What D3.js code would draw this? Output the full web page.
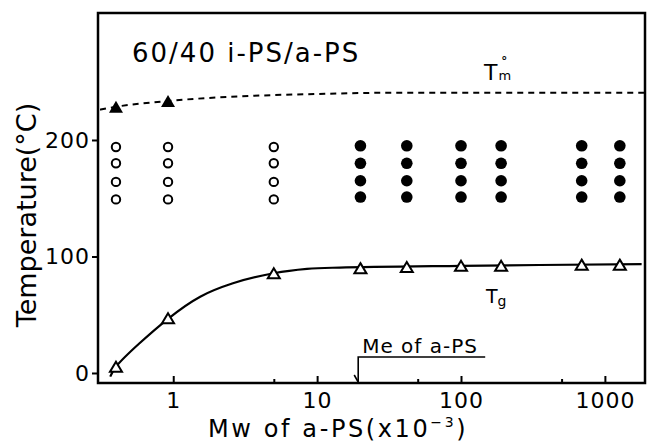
<!DOCTYPE html>
<html>
<head>
<meta charset="utf-8">
<script src="https://cdnjs.cloudflare.com/ajax/libs/d3/7.8.5/d3.min.js"></script>
<style>
  body { margin: 0; background: #fff; }
  svg { display: block; }
  text { font-family: "DejaVu Sans", sans-serif; fill: #000; }
</style>
</head>
<body>
<div id="chart"></div>
<script>
// Values (Mw in units of 10^3, temperature in °C)
const mwTicks = [1, 10, 100, 1000];
const mwMinorTicks = [5, 50, 500];
const tempTicks = [0, 100, 200];

// melting point (filled triangles) and dashed T°m curve
const tmMw = [0.4, 0.92];
const tmTemp = [228.5, 233.5];
const tmCurveMw = [0.31, 0.4, 0.92, 3, 10, 30, 1880];
const tmCurveTemp = [226, 228.5, 233.5, 237.5, 239.5, 240.5, 240.5];

// glass transition (open triangles) and solid Tg curve
const tgMw = [0.4, 0.92, 5, 20, 42, 100, 190, 690, 1270];
const tgTemp = [5.4, 47, 85.6, 90, 91, 92, 92, 93, 93];
const tgCurveMw = [0.365, 0.4, 0.92, 1.54, 2.6, 5, 8.5, 14.4, 100, 1800];
const tgCurveTemp = [-3.2, 5.4, 46.5, 65.5, 77, 85.6, 89.3, 90.5, 92, 93.5];

// crystallisation temperatures tested: open = no crystallisation, filled = crystallised
const openMw = [0.4, 0.92, 5];
const filledMw = [20, 42, 100, 190, 690, 1270];
const openTemps = [194, 180, 164, 149];
const filledTemps = [195, 180, 165, 151];

const meValue = 19.3; // Me of a-PS

const width = 649, height = 444;
const margin = { top: 13, right: 4, bottom: 61, left: 98 };

const svg = d3.select('#chart')
    .append('svg')
    .attr('width', width)
    .attr('height', height);

const x = d3.scaleLog()
    .domain([0.3, 1900])
    .range([margin.left, width - margin.right]);

const y = d3.scaleLinear()
    .domain([-8.6, 309])
    .range([height - margin.bottom, margin.top]);

const x0 = margin.left, x1 = width - margin.right;
const y0 = height - margin.bottom, y1 = margin.top;

// frame
svg.append('rect')
    .attr('x', x0)
    .attr('y', y1)
    .attr('width', x1 - x0)
    .attr('height', y0 - y1)
    .attr('fill', 'none')
    .attr('stroke', '#000')
    .attr('stroke-width', 2.5);

// x axis (ticks pointing inward)
svg.append('g')
    .attr('transform', `translate(0,${y0})`)
    .call(d3.axisBottom(x)
        .tickValues(mwTicks)
        .tickFormat(d3.format('d'))
        .tickSizeInner(-7)
        .tickSizeOuter(0)
        .tickPadding(9));

svg.append('g')
    .attr('transform', `translate(0,${y0})`)
    .call(d3.axisBottom(x)
        .tickValues(mwMinorTicks)
        .tickFormat('')
        .tickSizeInner(-4)
        .tickSizeOuter(0));

// y axis (ticks pointing outward)
svg.append('g')
    .attr('transform', `translate(${x0},0)`)
    .call(d3.axisLeft(y)
        .tickValues(tempTicks)
        .tickSizeInner(6)
        .tickSizeOuter(0)
        .tickPadding(2));

svg.selectAll('.domain').remove();
svg.selectAll('.tick line').attr('stroke-width', 2);
svg.selectAll('.tick text')
    .style('font-family', '"DejaVu Sans", sans-serif')
    .style('font-size', '22px')
    .style('letter-spacing', '1px');

// curves
const tmLine = d3.line()
    .x(d => x(d[0]))
    .y(d => y(d[1]))
    .curve(d3.curveMonotoneX);

const tgLine = d3.line()
    .x(d => x(d[0]))
    .y(d => y(d[1]))
    .curve(d3.curveCatmullRom.alpha(0.5));

svg.append('path')
    .datum(d3.zip(tmCurveMw, tmCurveTemp))
    .attr('d', tmLine)
    .attr('fill', 'none')
    .attr('stroke', '#000')
    .attr('stroke-width', 2)
    .attr('stroke-dasharray', '6,5');

svg.append('path')
    .datum(d3.zip(tgCurveMw, tgCurveTemp))
    .attr('d', tgLine)
    .attr('fill', 'none')
    .attr('stroke', '#000')
    .attr('stroke-width', 2.2);

// triangle helper (bounding box centred on the point)
function triangle(cx, cy, w, h) {
    return `M${cx},${cy - h / 2}L${cx + w / 2},${cy + h / 2}L${cx - w / 2},${cy + h / 2}Z`;
}

svg.selectAll('.tm')
    .data(d3.zip(tmMw, tmTemp))
    .join('path')
    .attr('d', d => triangle(x(d[0]), y(d[1]), 14, 12))
    .attr('fill', '#000');

svg.selectAll('.tg')
    .data(d3.zip(tgMw, tgTemp))
    .join('path')
    .attr('d', d => triangle(x(d[0]), y(d[1]), 12, 10))
    .attr('fill', '#fff')
    .attr('stroke', '#000')
    .attr('stroke-width', 2);

// circles
svg.selectAll('.open')
    .data(d3.cross(openMw, openTemps))
    .join('circle')
    .attr('cx', d => x(d[0]))
    .attr('cy', d => y(d[1]))
    .attr('r', 4.2)
    .attr('fill', '#fff')
    .attr('stroke', '#000')
    .attr('stroke-width', 2);

svg.selectAll('.filled')
    .data(d3.cross(filledMw, filledTemps))
    .join('circle')
    .attr('cx', d => x(d[0]))
    .attr('cy', d => y(d[1]))
    .attr('r', 5.8)
    .attr('fill', '#000');

// labels
svg.append('text')
    .attr('x', 132)
    .attr('y', 62)
    .style('font-size', '26px')
    .style('letter-spacing', '2px')
    .text('60/40 i-PS/a-PS');

// T°m label
const tmLabel = svg.append('text')
    .attr('x', 484)
    .attr('y', 80)
    .style('font-size', '22px');
tmLabel.append('tspan').text('T');
tmLabel.append('tspan').attr('dx', 1).style('font-size', '13px').text('m');
tmLabel.append('tspan').attr('dx', -10).attr('dy', -15)
    .style('font-size', '12px').style('font-weight', 'bold').text('°');

// Tg label
const tgLabel = svg.append('text')
    .attr('x', 486)
    .attr('y', 303)
    .style('font-size', '19px');
tgLabel.append('tspan').text('T');
tgLabel.append('tspan').attr('dy', 3).style('font-size', '14px').text('g');

// Me annotation
const meX = x(meValue);
svg.append('path')
    .attr('d', `M${meX},${y0 - 1}L${meX},357L${meX + 127},357`)
    .attr('fill', 'none')
    .attr('stroke', '#000')
    .attr('stroke-width', 1.6);
svg.append('path')
    .attr('d', `M${meX - 4},${y0 - 8}L${meX},${y0 - 1}`)
    .attr('fill', 'none')
    .attr('stroke', '#000')
    .attr('stroke-width', 1.6);
svg.append('text')
    .attr('x', meX + 4)
    .attr('y', 353)
    .style('font-size', '20px')
    .style('letter-spacing', '1px')
    .text('Me of a-PS');

// axis titles
const xTitle = svg.append('text')
    .attr('x', 208)
    .attr('y', 437)
    .style('font-size', '24px')
    .style('letter-spacing', '2.6px');
xTitle.append('tspan').text('Mw of a-PS(x10');
xTitle.append('tspan').attr('dy', -10).style('font-size', '14px').text('−3');
xTitle.append('tspan').attr('dy', 10).text(')');

svg.append('text')
    .attr('transform', 'translate(36,215) rotate(-90)')
    .attr('text-anchor', 'middle')
    .style('font-size', '27px')
    .text('Temperature(°C)');
</script>
</body>
</html>
